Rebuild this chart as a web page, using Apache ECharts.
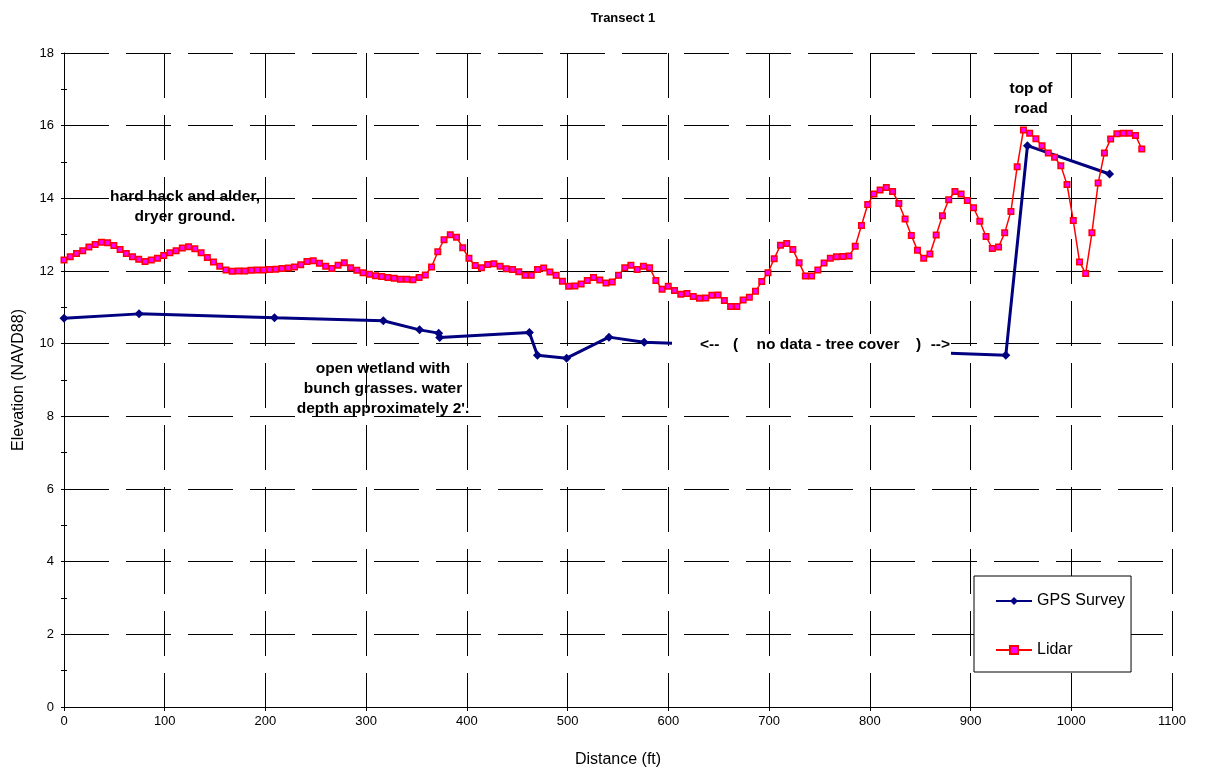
<!DOCTYPE html>
<html>
<head>
<meta charset="utf-8">
<title>Transect 1</title>
<script src="https://cdn.jsdelivr.net/npm/echarts@6/dist/echarts.min.js"></script>
<style>
  html, body { margin: 0; padding: 0; background: #fff; }
  #chart { width: 1210px; height: 773px; }
</style>
</head>
<body>
<div id="chart"></div>
<script>
// GPS survey points along the transect (distance in ft, elevation NAVD88)
const gpsDist = [0, 74.5, 209, 317, 353, 372, 373, 462, 470, 499, 541, 576, 935, 956.5, 1038];
const gpsElev = [10.70, 10.82, 10.71, 10.63, 10.38, 10.29, 10.17, 10.31, 9.68, 9.60, 10.18, 10.04, 9.68, 15.45, 14.67];

// Lidar profile samples
const lidarDist = [
  0, 6.2, 12.4, 18.6, 24.7, 30.9, 37.1, 43.3, 49.5, 55.7,
  61.9, 68.0, 74.2, 80.4, 86.6, 92.8, 99.0, 105.1, 111.3, 117.5,
  123.7, 129.9, 136.1, 142.3, 148.4, 154.6, 160.8, 167.0, 173.2, 179.4,
  185.6, 191.7, 197.9, 204.1, 210.3, 216.5, 222.7, 228.8, 235.0, 241.2,
  247.4, 253.6, 259.8, 266.0, 272.1, 278.3, 284.5, 290.7, 296.9, 303.1,
  309.3, 315.4, 321.6, 327.8, 334.0, 340.2, 346.4, 352.5, 358.7, 364.9,
  371.1, 377.3, 383.5, 389.7, 395.8, 402.0, 408.2, 414.4, 420.6, 426.8,
  433.0, 439.1, 445.3, 451.5, 457.7, 463.9, 470.1, 476.2, 482.4, 488.6,
  494.8, 501.0, 507.2, 513.4, 519.5, 525.7, 531.9, 538.1, 544.3, 550.5,
  556.7, 562.8, 569.0, 575.2, 581.4, 587.6, 593.8, 599.9, 606.1, 612.3,
  618.5, 624.7, 630.9, 637.1, 643.2, 649.4, 655.6, 661.8, 668.0, 674.2,
  680.4, 686.5, 692.7, 698.9, 705.1, 711.3, 717.5, 723.6, 729.8, 736.0,
  742.2, 748.4, 754.6, 760.8, 766.9, 773.1, 779.3, 785.5, 791.7, 797.9,
  804.1, 810.2, 816.4, 822.6, 828.8, 835.0, 841.2, 847.3, 853.5, 859.7,
  865.9, 872.1, 878.3, 884.5, 890.6, 896.8, 903.0, 909.2, 915.4, 921.6,
  927.8, 933.9, 940.1, 946.3, 952.5, 958.7, 964.9, 971.0, 977.2, 983.4,
  989.6, 995.8, 1002.0, 1008.2, 1014.3, 1020.5, 1026.7, 1032.9, 1039.1, 1045.3,
  1051.5, 1057.6, 1063.8, 1070.0
];
const lidarElev = [
  12.30, 12.39, 12.48, 12.56, 12.66, 12.73, 12.79, 12.78, 12.70, 12.59,
  12.48, 12.39, 12.32, 12.26, 12.30, 12.35, 12.43, 12.50, 12.56, 12.63,
  12.67, 12.61, 12.50, 12.37, 12.25, 12.13, 12.03, 11.99, 12.00, 12.00,
  12.02, 12.03, 12.03, 12.04, 12.05, 12.07, 12.08, 12.11, 12.17, 12.26,
  12.28, 12.21, 12.13, 12.07, 12.16, 12.23, 12.09, 12.02, 11.95, 11.91,
  11.87, 11.85, 11.82, 11.80, 11.77, 11.77, 11.76, 11.82, 11.89, 12.11,
  12.53, 12.86, 13.00, 12.93, 12.64, 12.35, 12.15, 12.09, 12.18, 12.20,
  12.13, 12.06, 12.04, 11.98, 11.88, 11.88, 12.04, 12.08, 11.97, 11.88,
  11.72, 11.58, 11.59, 11.64, 11.74, 11.82, 11.75, 11.67, 11.70, 11.88,
  12.09, 12.16, 12.04, 12.13, 12.09, 11.74, 11.50, 11.58, 11.46, 11.36,
  11.38, 11.30, 11.25, 11.26, 11.33, 11.34, 11.19, 11.02, 11.02, 11.20,
  11.28, 11.44, 11.71, 11.95, 12.34, 12.71, 12.76, 12.59, 12.23, 11.86,
  11.86, 12.03, 12.22, 12.35, 12.39, 12.40, 12.41, 12.68, 13.25, 13.83,
  14.12, 14.23, 14.30, 14.19, 13.86, 13.43, 12.98, 12.57, 12.35, 12.47,
  12.99, 13.52, 13.96, 14.19, 14.12, 13.94, 13.74, 13.37, 12.95, 12.62,
  12.66, 13.05, 13.64, 14.87, 15.88, 15.79, 15.64, 15.45, 15.25, 15.13,
  14.90, 14.38, 13.39, 12.25, 11.93, 13.05, 14.42, 15.25, 15.63, 15.78,
  15.79, 15.79, 15.73, 15.36
];

// Axis ranges and tick spacing
const xRange = [0, 1100];
const xStep = 100;
const yRange = [0, 18];
const yStep = 2;

// Annotation text
const noteDryer = ['hard hack and alder,', 'dryer ground.'];
const noteWetland = ['open wetland with', 'bunch grasses. water', 'depth approximately 2\'.'];
const noteNoData = ['<--', '(', 'no data - tree cover', ')', '-->'];
const noteRoad = ['top of', 'road'];

const FONT = 'Liberation Sans, Arial, sans-serif';
const chart = echarts.init(document.getElementById('chart'), null, { renderer: 'canvas' });

const pairs = (xs, ys) => xs.map((x, i) => [x, ys[i]]);
const dashGrid = { color: '#000', width: 1, type: [45, 17] };

const noteStyle = (extra) => Object.assign({
  fontFamily: FONT, fontSize: 15.5, fontWeight: 'bold', fill: '#000', lineHeight: 20
}, extra);

// the "no data" label sits on an opaque box that hides the survey line behind it
const noDataPieces = [
  { text: noteNoData[0], x: 700, align: 'left' },
  { text: noteNoData[1], x: 733, align: 'left' },
  { text: noteNoData[2], x: 828, align: 'center' },
  { text: noteNoData[3], x: 916, align: 'left' },
  { text: noteNoData[4], x: 950, align: 'right' }
];

chart.setOption({
  animation: false,
  backgroundColor: '#fff',
  title: {
    text: 'Transect 1',
    left: 618, top: 7, textAlign: 'center',
    textStyle: { fontFamily: FONT, fontSize: 13, fontWeight: 'bold', color: '#000' }
  },
  grid: { left: 64, right: 38, top: 53, bottom: 64, containLabel: false },
  legend: {
    orient: 'vertical',
    left: 974, top: 576,
    padding: [17, 6, 14, 21],
    itemWidth: 36, itemHeight: 10, itemGap: 33,
    borderColor: '#000', borderWidth: 1,
    backgroundColor: '#fff',
    textStyle: { fontFamily: FONT, fontSize: 16, color: '#000' },
    data: ['GPS Survey', 'Lidar']
  },
  xAxis: [{
    type: 'value', min: xRange[0], max: xRange[1], interval: xStep,
    name: 'Distance (ft)', nameLocation: 'middle', nameGap: 45,
    nameTextStyle: { fontFamily: FONT, fontSize: 16, color: '#000' },
    axisLine: { show: true, onZero: false, lineStyle: { color: '#000', width: 1 } },
    axisTick: { show: true, length: 4, lineStyle: { color: '#000' } },
    minorTick: { show: false },
    axisLabel: { fontFamily: FONT, fontSize: 13, color: '#000', margin: 8,
                 formatter: (v) => String(v) },
    splitLine: { show: true, lineStyle: dashGrid }
  }],
  yAxis: [{
    type: 'value', min: yRange[0], max: yRange[1], interval: yStep,
    name: 'Elevation (NAVD88)', nameLocation: 'middle', nameGap: 37,
    nameTextStyle: { fontFamily: FONT, fontSize: 16, color: '#000' },
    axisLine: { show: true, onZero: false, lineStyle: { color: '#000', width: 1 } },
    axisTick: { show: true, length: 3, lineStyle: { color: '#000' } },
    minorTick: { show: true, splitNumber: 2, length: 3, lineStyle: { color: '#000' } },
    axisLabel: { fontFamily: FONT, fontSize: 13, color: '#000', margin: 10 },
    splitLine: { show: true, lineStyle: dashGrid }
  }, {
    // inner half of the crossing tick marks
    type: 'value', min: yRange[0], max: yRange[1], interval: yStep,
    position: 'left', offset: 0,
    axisLine: { show: false },
    axisTick: { show: true, inside: true, length: 3, lineStyle: { color: '#000' } },
    minorTick: { show: true, splitNumber: 2, length: 3, lineStyle: { color: '#000' } },
    axisLabel: { show: false },
    splitLine: { show: false }
  }],
  series: [{
    name: 'GPS Survey',
    type: 'line',
    data: pairs(gpsDist, gpsElev),
    z: 3,
    symbol: 'diamond', symbolSize: 9,
    lineStyle: { color: '#000080', width: 3 },
    itemStyle: { color: '#000080', borderWidth: 0 }
  }, {
    name: 'Lidar',
    type: 'line',
    data: pairs(lidarDist, lidarElev),
    z: 4,
    symbol: 'rect', symbolSize: 5.5,
    lineStyle: { color: '#ff0000', width: 1.5 },
    itemStyle: { color: '#ff00ff', borderColor: '#ff0000', borderWidth: 1.5 }
  }],
  graphic: [
    {
      type: 'text', z: 10,
      style: noteStyle({ text: noteDryer.join('\n'), x: 185, y: 187, textAlign: 'center' })
    },
    {
      type: 'text', z: 10,
      style: noteStyle({ text: noteWetland.join('\n'), x: 383, y: 359, textAlign: 'center' })
    },
    {
      type: 'rect', z: 9,
      shape: { x: 672, y: 334, width: 279, height: 26 },
      style: { fill: '#fff' }
    },
    ...noDataPieces.map((p) => ({
      type: 'text', z: 10,
      style: noteStyle({ text: p.text, x: p.x, y: 335, textAlign: p.align })
    })),
    {
      type: 'text', z: 10,
      style: noteStyle({ text: noteRoad.join('\n'), x: 1031, y: 79, textAlign: 'center' })
    }
  ]
});
</script>
</body>
</html>
